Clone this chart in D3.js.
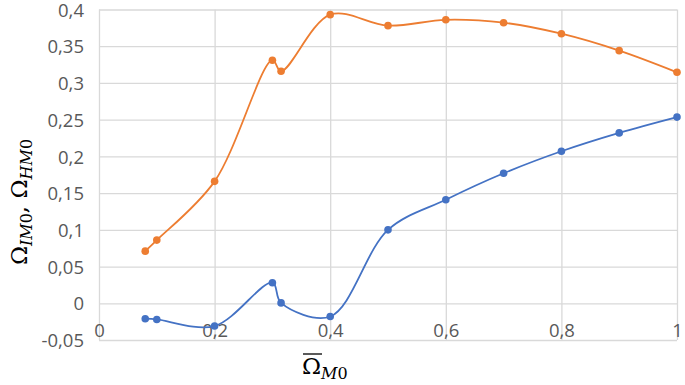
<!DOCTYPE html>
<html>
<head>
<meta charset="utf-8">
<script src="https://cdn.jsdelivr.net/npm/d3@7"></script>
<style>
  body { margin: 0; background: #fff; }
  svg { display: block; }
  .tick text { font-family: "Open Sans", sans-serif; font-size: 18.5px; fill: #595959; }
  .title { font-family: "DejaVu Serif", "Liberation Serif", serif; fill: #000; }
</style>
</head>
<body>
<svg width="685" height="385"></svg>
<script>
// **** data ****
var xValues = [0.08, 0.1, 0.2, 0.3, 0.315, 0.4, 0.5, 0.6, 0.7, 0.8, 0.9, 1];
var orangeValues = [0.071, 0.086, 0.166, 0.331, 0.316, 0.393, 0.378, 0.386, 0.382, 0.367, 0.344, 0.3145];
var blueValues = [-0.021, -0.022, -0.031, 0.028, 0.0005, -0.018, 0.100, 0.141, 0.177, 0.207, 0.232, 0.2535];
var xTicks = [0, 0.2, 0.4, 0.6, 0.8, 1];
var yTicks = [-0.05, 0, 0.05, 0.1, 0.15, 0.2, 0.25, 0.3, 0.35, 0.4];

// **** scales ****
var xScale = d3.scaleLinear().domain([0, 1]).range([99, 677]);
var yScale = d3.scaleLinear().domain([-0.05, 0.4]).range([340, 9.5]);

var svg = d3.select('svg');

var fmt = function(d) { return String(+d.toFixed(2)).replace('.', ','); };

// horizontal gridlines + y labels
var yAxis = svg.append('g').attr('class', 'y axis')
    .attr('transform', 'translate(99,0)')
    .call(d3.axisLeft(yScale).tickValues(yTicks).tickFormat(fmt)
        .tickSize(-(677 - 99)).tickPadding(15));
yAxis.select('.domain').remove();
yAxis.selectAll('line').attr('stroke', '#d9d9d9').attr('stroke-width', 1.3);
yAxis.selectAll('text').attr('dy', '0.36em');

// vertical gridlines + x labels
var xAxis = svg.append('g').attr('class', 'x axis')
    .attr('transform', 'translate(0,340)')
    .call(d3.axisBottom(xScale).tickValues(xTicks).tickFormat(fmt)
        .tickSize(-(340 - 9.5)).tickPadding(0));
xAxis.select('.domain').remove();
xAxis.selectAll('line').attr('stroke', '#d9d9d9').attr('stroke-width', 1.3);
xAxis.selectAll('text').attr('y', -3).attr('dy', 0);

// **** series ****
function drawSeries(values, color) {
    var pts = xValues.map(function(x, i) { return [x, values[i]]; });
    var line = d3.line()
        .x(function(d) { return xScale(d[0]); })
        .y(function(d) { return yScale(d[1]); })
        .curve(d3.curveCatmullRom.alpha(0.5));
    svg.append('path')
        .attr('d', line(pts))
        .attr('fill', 'none')
        .attr('stroke', color)
        .attr('stroke-width', 1.8);
    svg.append('g').selectAll('circle').data(pts).enter().append('circle')
        .attr('cx', function(d) { return xScale(d[0]); })
        .attr('cy', function(d) { return yScale(d[1]); })
        .attr('r', 3.8)
        .attr('fill', color);
}
drawSeries(orangeValues, '#ed7d31');
drawSeries(blueValues, '#4472c4');

// **** axis titles ****
var yTitle = svg.append('text')
    .attr('class', 'title')
    .attr('transform', 'translate(27,202) rotate(-90)')
    .attr('text-anchor', 'middle')
    .style('font-size', '23px');
yTitle.append('tspan').text('Ω');
yTitle.append('tspan').attr('dy', 5).style('font-size', '16px').style('font-style', 'italic').text('IM');
yTitle.append('tspan').style('font-size', '16px').text('0');
yTitle.append('tspan').attr('dy', -5).text(', Ω');
yTitle.append('tspan').attr('dy', 5).style('font-size', '16px').style('font-style', 'italic').text('HM');
yTitle.append('tspan').style('font-size', '16px').text('0');

var xTitle = svg.append('text')
    .attr('class', 'title')
    .attr('x', 302)
    .attr('y', 374)
    .style('font-size', '23px');
xTitle.append('tspan').text('Ω');
xTitle.append('tspan').attr('dy', 5).style('font-size', '16px').style('font-style', 'italic').text('M');
xTitle.append('tspan').style('font-size', '16px').text('0');
svg.append('line')
    .attr('x1', 303).attr('x2', 322)
    .attr('y1', 354).attr('y2', 354)
    .attr('stroke', '#000').attr('stroke-width', 1.3);
</script>
</body>
</html>
